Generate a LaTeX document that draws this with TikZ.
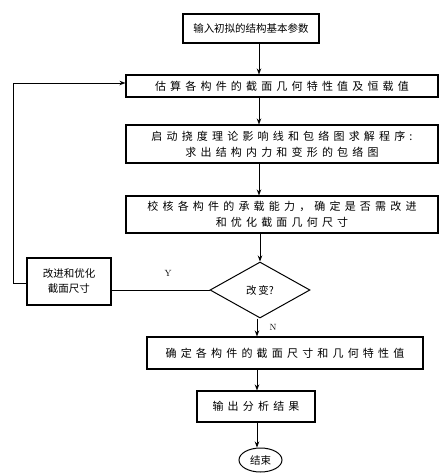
\documentclass[tikz,border=0pt]{standalone}
\usepackage{fontspec}
\newfontfamily\cjk{Noto Sans CJK SC}
\newfontfamily\cjkwide[LetterSpace=38]{Noto Sans CJK SC}
\usetikzlibrary{shapes.geometric,arrows.meta}
\begin{document}
\begin{tikzpicture}[x=1pt,y=-1pt,
  box/.style={draw,line width=1.1pt,rectangle,inner sep=0pt,align=center},
  conn/.style={line width=0.8pt},
  arr/.style={conn,-{Stealth[length=6pt,width=4.5pt]}},
  lab/.style={font=\fontsize{9}{10}\selectfont,inner sep=0pt}]
\useasboundingbox (0,0) rectangle (446,475);
\node[box,minimum width=136pt,minimum height=29pt,font=\cjk\fontsize{10.5}{12}\selectfont] (b1) at (251,28.5) {输入初拟的结构基本参数};
\node[box,minimum width=312pt,minimum height=22pt,font=\cjkwide\fontsize{11}{12}\selectfont] (b2) at (282,86) {估算各构件的截面几何特性值及恒载值};
\node[box,minimum width=312pt,minimum height=38pt,font=\cjkwide\fontsize{11}{16}\selectfont] (b3) at (282,144) {启动挠度理论影响线和包络图求解程序:\\求出结构内力和变形的包络图};
\node[box,minimum width=312pt,minimum height=37pt,font=\cjkwide\fontsize{11}{16}\selectfont] (b4) at (282,214.5) {校核各构件的承载能力，确定是否需改进\\和优化截面几何尺寸};
\node[draw,line width=1pt,diamond,aspect=1.786,minimum width=100pt,minimum height=56pt,inner sep=0pt,font=\cjk\fontsize{10.5}{12}\selectfont] (d) at (260,290) {改\,变?};
\node[box,minimum width=84pt,minimum height=47pt,font=\cjk\fontsize{10.5}{15}\selectfont] (lb) at (69,281.5) {改进和优化\\截面尺寸};
\node[box,minimum width=276pt,minimum height=32pt,font=\cjkwide\fontsize{11}{12}\selectfont] (b5) at (285,353) {确定各构件的截面尺寸和几何特性值};
\node[box,minimum width=118pt,minimum height=31pt,font=\cjkwide\fontsize{11}{12}\selectfont] (b6) at (256,406.5) {输出分析结果};
\node[draw,line width=1pt,ellipse,minimum width=43pt,minimum height=24pt,inner sep=0pt,font=\cjk\fontsize{10.5}{12}\selectfont] (e) at (260.5,460) {结束};
\node[lab] (ly) at (168,273) {Y};
\node[lab] (ln) at (273,327) {N};
\coordinate (c1) at (259,0);
\coordinate (c2) at (257,0);
\coordinate (fbx) at (13,0);
\coordinate (fbtop) at (0,83);
\coordinate (fbbot) at (0,283);
\coordinate (dl) at (0,292);
\draw[arr] (b1.south -| c1) -- (b2.north -| c1);
\draw[arr] (b2.south -| c1) -- (b3.north -| c1);
\draw[arr] (b3.south -| c1) -- (b4.north -| c1);
\draw[arr] (b4.south -| d.north) -- (d.north);
\draw[arr] (d.south -| c2) -- (b5.north -| c2);
\draw[arr] (b5.south -| c2) -- (b6.north -| c2);
\draw[arr] (b6.south -| c2) -- (e.north -| c2);
\draw[conn] (d.west) -- (d.west -| lb.east);
\draw[arr] (lb.west |- fbbot) -- (fbx |- fbbot) -- (fbx |- fbtop) -- (b2.west |- fbtop);
\end{tikzpicture}
\end{document}
